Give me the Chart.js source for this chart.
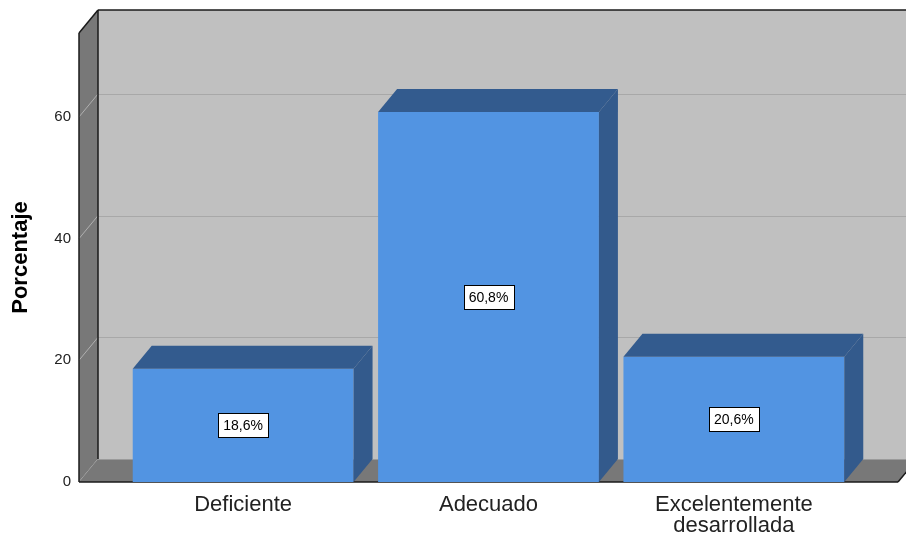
<!DOCTYPE html>
<html>
<head>
<meta charset="utf-8">
<script src="https://cdn.jsdelivr.net/npm/chart.js@4.4.1/dist/chart.umd.min.js"></script>
<style>
    html, body { margin: 0; padding: 0; background: #ffffff; }
    canvas { display: block; }
</style>
</head>
<body>
<canvas id="graphCanvas" width="906" height="537"></canvas>
<script>
// datos
var categories = ['Deficiente', 'Adecuado', ['Excelentemente', 'desarrollada']];
var porcentajes = [18.6, 60.8, 20.6];
var etiquetas = ['18,6%', '60,8%', '20,6%'];
var yTicks = [0, 20, 40, 60];
var yMax = 73.8;

var FONT = '"Liberation Sans", Arial, sans-serif';
var DX = 19, DY = -23; // profundidad 3D

function poly(ctx, pts, fill) {
    ctx.beginPath();
    ctx.moveTo(pts[0][0], pts[0][1]);
    for (var i = 1; i < pts.length; i++) ctx.lineTo(pts[i][0], pts[i][1]);
    ctx.closePath();
    ctx.fillStyle = fill;
    ctx.fill();
}

function line(ctx, x1, y1, x2, y2) {
    ctx.beginPath();
    ctx.moveTo(x1, y1);
    ctx.lineTo(x2, y2);
    ctx.stroke();
}

// paredes y suelo estilo SPSS
var walls = {
    id: 'walls',
    beforeDatasetsDraw: function (chart) {
        var ctx = chart.ctx, a = chart.chartArea, ys = chart.scales.y;
        var L = a.left, R = a.right, T = a.top, B = a.bottom;
        ctx.save();
        // pared del fondo
        ctx.fillStyle = '#c0c0c0';
        ctx.fillRect(L + DX, T + DY, R - L, B - T);
        ctx.lineWidth = 1;
        ctx.strokeStyle = '#a8a8a8';
        yTicks.forEach(function (v) {
            if (v === 0) return;
            var p = Math.round(ys.getPixelForValue(v) + DY) + 0.5;
            line(ctx, L + DX, p, R + DX, p);
        });
        // pared lateral
        poly(ctx, [[L, T], [L + DX, T + DY], [L + DX, B + DY], [L, B]], '#787878');
        ctx.strokeStyle = '#b0b0b0';
        yTicks.forEach(function (v) {
            var p = ys.getPixelForValue(v);
            line(ctx, L, p, L + DX, p + DY);
        });
        // suelo
        poly(ctx, [[L, B], [R, B], [R + DX, B + DY], [L + DX, B + DY]], '#787878');
        ctx.strokeStyle = '#9a9a9a';
        line(ctx, L + DX, B + DY + 0.5, R + DX, B + DY + 0.5);
        // bordes
        ctx.strokeStyle = '#1a1a1a';
        ctx.lineWidth = 1.5;
        line(ctx, L, T, L, B);
        line(ctx, L + DX, T + DY, L + DX, B + DY);
        line(ctx, L, T, L + DX, T + DY);
        line(ctx, L + DX, T + DY, R + DX, T + DY);
        line(ctx, L, B, R, B);
        line(ctx, R, B, R + DX, B + DY);
        ctx.restore();
    }
};

// caras superior y lateral + etiquetas
var bars3d = {
    id: 'bars3d',
    afterDatasetsDraw: function (chart) {
        var ctx = chart.ctx;
        ctx.save();
        chart.getDatasetMeta(0).data.forEach(function (bar, i) {
            var p = bar.getProps(['x', 'y', 'base', 'width'], true);
            var l = p.x - p.width / 2, r = p.x + p.width / 2;
            poly(ctx, [[l, p.y], [r, p.y], [r + DX, p.y + DY], [l + DX, p.y + DY]], '#335b8e');
            poly(ctx, [[r, p.y], [r + DX, p.y + DY], [r + DX, p.base + DY], [r, p.base]], '#335a8c');

            ctx.font = '14px ' + FONT;
            var tw = ctx.measureText(etiquetas[i]).width;
            var bw = Math.round(tw + 10), bh = 24;
            var cy = (p.y + p.base) / 2;
            var bx = Math.round(p.x - bw / 2) + 0.5, by = Math.round(cy - bh / 2) + 0.5;
            ctx.fillStyle = '#ffffff';
            ctx.fillRect(bx, by, bw, bh);
            ctx.strokeStyle = '#000000';
            ctx.lineWidth = 1;
            ctx.strokeRect(bx, by, bw, bh);
            ctx.fillStyle = '#000000';
            ctx.textAlign = 'center';
            ctx.textBaseline = 'middle';
            ctx.fillText(etiquetas[i], p.x, cy + 1);
        });
        ctx.restore();
    }
};

var chartdata = {
    datasets: [{
        label: 'Porcentaje',
        data: porcentajes.map(function (v, i) { return { x: i + 1, y: v }; }),
        backgroundColor: '#5294e2',
        borderWidth: 0,
        categoryPercentage: 1,
        barPercentage: 0.9
    }]
};

new Chart(document.getElementById('graphCanvas'), {
    type: 'bar',
    data: chartdata,
    plugins: [walls, bars3d],
    options: {
        responsive: false,
        animation: false,
        layout: { padding: { top: 33, right: 8, left: 0, bottom: 0 } },
        plugins: {
            legend: { display: false },
            tooltip: { enabled: false }
        },
        scales: {
            x: {
                type: 'linear',
                offset: false,
                min: 0.331,
                max: 3.669,
                grid: { display: false, drawTicks: false },
                border: { display: false },
                afterBuildTicks: function (s) {
                    s.ticks = categories.map(function (c, i) { return { value: i + 1 }; });
                },
                afterFit: function (s) { s.height = 55; },
                ticks: {
                    autoSkip: false,
                    maxRotation: 0,
                    padding: 12,
                    color: '#222222',
                    font: { family: FONT, size: 22, lineHeight: 0.98 },
                    callback: function (value) { return categories[Math.round(value) - 1]; }
                }
            },
            y: {
                min: 0,
                max: yMax,
                grid: { display: false, drawTicks: false },
                border: { display: false },
                afterBuildTicks: function (s) {
                    s.ticks = yTicks.map(function (v) { return { value: v }; });
                },
                afterFit: function (s) { s.width = 79; },
                ticks: {
                    padding: 8,
                    color: '#222222',
                    font: { family: FONT, size: 15 }
                },
                title: {
                    display: true,
                    text: 'Porcentaje',
                    color: '#000000',
                    padding: { top: 8, bottom: 0 },
                    font: { family: FONT, size: 22, weight: 'bold' }
                }
            }
        }
    }
});
</script>
</body>
</html>
